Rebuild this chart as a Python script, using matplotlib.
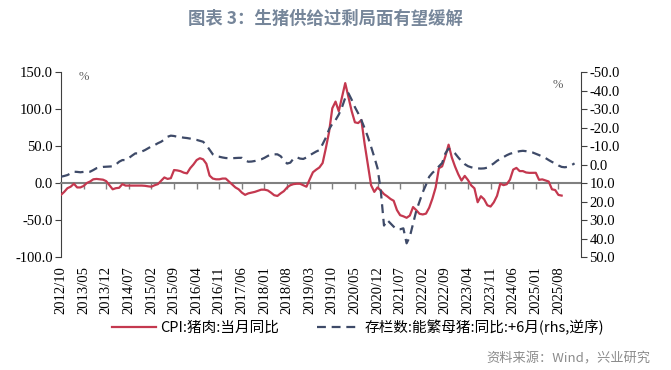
import matplotlib
matplotlib.use('Agg')
import matplotlib.pyplot as plt
import numpy as np
import pandas as pd

plt.rcParams['font.family'] = ['Noto Sans CJK SC', 'DejaVu Sans']

# CPI:猪肉:当月同比, % (monthly from 2012/10)
cpiPork = [
    -16, -12, -7, -5, -1, -6, -6, -4, 0, 2, 5, 5.5, 5, 4.5, 2.5, -3,
    -8.5, -7, -6.5, -1.5, -3.5, -3.5, -3.5, -3.5, -3.5, -3.5, -3.8, -4.5, -5, -3, -1.5, 3,
    7.5, 5.5, 6.5, 17.5, 17, 16, 14, 13, 20, 25, 31, 33.5, 32, 26, 10, 6,
    5, 5, 6, 6, 2, -2, -6, -8.5, -13, -16, -14, -13, -12, -10.5, -9, -9,
    -10, -13, -16.5, -17.5, -14, -11, -6, -3, -1.5, -1, -1, -3, -5, 5, 14.5, 18,
    21, 27, 47, 69, 101, 110, 97, 116, 135, 116, 97, 82, 81, 85, 53, 25,
    -3, -12, -6, -10, -15, -18, -21.5, -24, -36.5, -43.5, -45, -47, -44, -32.5, -36.7, -41.6,
    -42.5, -41.4, -33.3, -21, -6, 20, 22.5, 36, 51.8, 34.4, 22.2, 11.8, 3.3, 9.6, 4, -3.2,
    -7.2, -26, -17.9, -22, -30.1, -31.8, -26.1, -17.3, -0.9, -2.9, -1.7, 4.6, 18.1, 20.4, 16.1, 16.1,
    14.2, 13.7, 13.8, 13.8, 4.3, 4.9, 3.5, 2, -8.5, -9.5, -16.1, -17,
]

# 存栏数:能繁母猪:同比, shifted +6 months, % (rhs, reversed)
sowStock = [
    6.6, 6.2, 5.7, 4.8, 3.9, 4.0, 4.2, 4.0, 3.9, 3.9, 3.0, 2.0, 1.6, 1.3, 1.2, 1.1,
    1.0, 0, -1.5, -2.4, -2.4, -3.5, -4.8, -6, -6, -7, -7.8, -8.8, -9.8, -10.5, -11.5, -12.3,
    -13.5, -15, -15.6, -15.4, -15.0, -14.8, -14.5, -14.3, -14.0, -13.6, -13.3, -12.8, -12.3, -10.5, -8.0, -5.5,
    -4.5, -4.2, -3.8, -3.5, -3.4, -3.4, -3.5, -3.6, -3.6, -2.2, -1.5, -1.6, -1.9, -2.4, -2.8, -3.6,
    -4.6, -5.5, -5.5, -5.5, -4.5, -2.4, -0.5, -1, -3.2, -3.9, -3.2, -3.0, -3.8, -5, -6, -7,
    -7.8, -11, -14.5, -19, -22, -24, -27, -31, -36, -38.5, -35, -31, -27.7, -24, -19.6, -15,
    -9.6, -4, 2, 14, 33, 30, 31.8, 33.6, 35, 35, 34.5, 42.6, 39, 32, 25, 20,
    15, 11, 6.6, 4.5, 3, 1, -0.8, -6, -8.6, -7.5, -6, -3.8, -1.8, -0.2, 0.9, 1.5,
    2, 2.1, 2.2, 2.1, 1.7, 0.6, -0.6, -2, -3, -4, -5, -5.8, -6.3, -6.8, -7.2, -7.4,
    -7.2, -6.9, -6.5, -5.8, -5.1, -4.3, -3.5, -2.4, -1.4, -0.6, 0.5, 1.3, 1.5, 1.2, 0.4, -0.6,
]

months = pd.date_range('2012-10-01', periods=len(sowStock), freq='MS')
tickStep = 7
leftTicks = [-100, -50, 0, 50, 100, 150]
rightTicks = list(range(-50, 51, 10))

redColor = '#c4384f'
blueColor = '#3e4a68'
serif = 'Liberation Serif'

fig = plt.figure(figsize=(6.71, 3.70), dpi=100)
ax = fig.add_axes([0.0909, 0.3054, 0.775, 0.5])
ax2 = ax.twinx()

x = np.arange(len(months))
ax.plot(x[:len(cpiPork)], cpiPork, color=redColor, lw=1.6, label='CPI:猪肉:当月同比', zorder=3)
ax2.plot(x, sowStock, color=blueColor, lw=1.6, dashes=(4, 2.6),
         label='存栏数:能繁母猪:同比:+6月(rhs,逆序)')

ax.set_xlim(0, 161)
ax.set_ylim(-100, 150)
ax2.set_ylim(50, -50)
ax.set_yticks(leftTicks)
ax.set_yticklabels(['%.1f' % v for v in leftTicks], family=serif, fontsize=10.5)
ax2.set_yticks(rightTicks)
ax2.set_yticklabels(['%.1f' % v for v in rightTicks], family=serif, fontsize=10.5)

tickPos = [p for p in x[::tickStep] if p <= 154]

for a in (ax, ax2):
    a.spines['top'].set_visible(False)
    a.patch.set_visible(False)
ax2.spines['bottom'].set_visible(False)
ax2.spines['left'].set_visible(False)
ax.spines['right'].set_visible(False)
ax.spines['bottom'].set_position(('data', 0))
ax.spines['bottom'].set_color('#808080')
ax.spines['bottom'].set_linewidth(1.5)
ax.spines['left'].set_color('#404040')
ax2.spines['right'].set_color('#404040')
ax.tick_params(axis='x', direction='out', length=4, color='#808080', width=1, pad=56,
               labelrotation=90)
ax.tick_params(axis='y', direction='out', length=4, color='#404040', pad=2)
ax2.tick_params(axis='y', direction='out', length=4, color='#404040', pad=2)

ax.set_xticks(tickPos)
ax.set_xticklabels([months[p].strftime('%Y/%m') for p in tickPos],
                   family=serif, fontsize=10.5)

ax.text(0.033, 0.957, '%', transform=ax.transAxes, family=serif, fontsize=9, color='#606060')
ax.text(0.945, 0.915, '%', transform=ax.transAxes, family=serif, fontsize=9, color='#606060')

fig.text(0.485, 0.95, '图表 3：生猪供给过剩局面有望缓解', ha='center', va='center',
         fontsize=12.5, fontweight='bold', color='#76869a')

h1, l1 = ax.get_legend_handles_labels()
h2, l2 = ax2.get_legend_handles_labels()
fig.legend(h1 + h2, l1 + l2, loc='center', bbox_to_anchor=(0.534, 0.116), ncol=2,
           frameon=False, fontsize=10.5, handlelength=3.0, handletextpad=0.3, columnspacing=2.6)

fig.text(0.969, 0.03, '资料来源：Wind，兴业研究', ha='right', va='center',
         fontsize=9.5, color='#8c8c8c')

fig.savefig('out.png', dpi=100)
